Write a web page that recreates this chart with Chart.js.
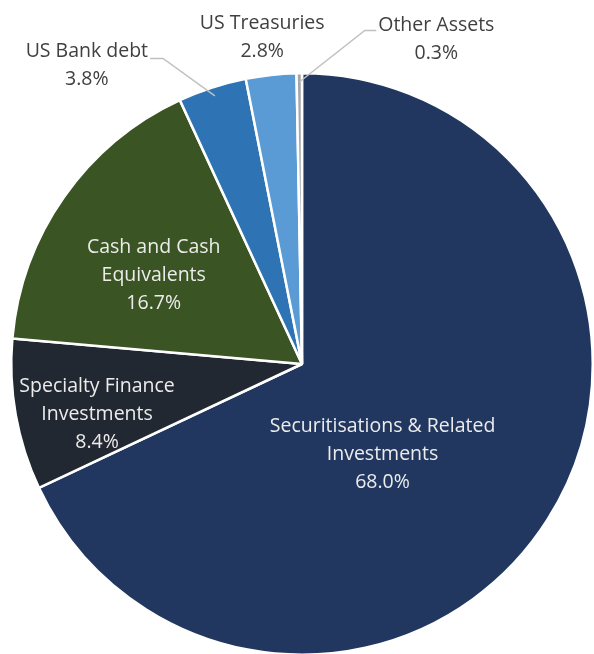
<!DOCTYPE html>
<html>
<head>
<meta charset="utf-8">
<script src="https://cdn.jsdelivr.net/npm/chart.js@4"></script>
<style>
  html, body { margin: 0; padding: 0; background: #fff; overflow: hidden; }
  #wrap { width: 594px; height: 660px; position: relative; }
</style>
</head>
<body>
<div id="wrap"><canvas id="assetChart"></canvas></div>
<script>
// asset allocation, clockwise from 12 o'clock
var categories = ['Securitisations & Related Investments', 'Specialty Finance Investments',
  'Cash and Cash Equivalents', 'US Bank debt', 'US Treasuries', 'Other Assets'];
var shares = [68.0, 8.4, 16.7, 3.8, 2.8, 0.3];
var labelLines = [
  ['Securitisations & Related', 'Investments'],
  ['Specialty Finance', 'Investments'],
  ['Cash and Cash', 'Equivalents'],
  ['US Bank debt'],
  ['US Treasuries'],
  ['Other Assets']
];
var sliceColours = ['#21375f', '#222831', '#3a5424', '#2e74b5', '#5b9bd5', '#a6a6a6'];

// label placement, as fractions of the pie radius from its centre
var labelSpots = [
  { x: 0.277, y: 0.312, inside: true },
  { x: -0.705, y: 0.175, inside: true },
  { x: -0.510, y: -0.305, inside: true },
  { x: -0.740, y: -1.027, leader: { x: -0.478, y: -1.051, side: -1 } },
  { x: -0.137, y: -1.123 },
  { x: 0.462, y: -1.116, leader: { x: 0.216, y: -1.147, side: 1 } }
];

var pieLabels = {
  id: 'pieLabels',
  afterDatasetsDraw: function(chart) {
    var ctx = chart.ctx;
    var arcs = chart.getDatasetMeta(0).data;
    ctx.save();
    ctx.font = '19.5px "Open Sans"';
    ctx.textAlign = 'center';
    ctx.textBaseline = 'middle';
    arcs.forEach(function(arc, i) {
      var r = arc.outerRadius, cx = arc.x, cy = arc.y;
      var spot = labelSpots[i];
      var lx = cx + spot.x * r, ly = cy + spot.y * r;
      var lines = labelLines[i].concat([shares[i].toFixed(1) + '%']);
      var lh = 28;
      var top = ly - (lines.length - 1) * lh / 2;
      if (spot.leader) {
        var mid = (arc.startAngle + arc.endAngle) / 2;
        var ex = cx + Math.cos(mid) * r * 0.97, ey = cy + Math.sin(mid) * r * 0.97;
        var bx = cx + spot.leader.x * r, by = cy + spot.leader.y * r;
        var w = ctx.measureText(lines[0]).width;
        var tx = lx - spot.leader.side * (w / 2 + 2);
        ctx.strokeStyle = '#c0c0c0';
        ctx.lineWidth = 1.5;
        ctx.beginPath();
        ctx.moveTo(ex, ey);
        ctx.lineTo(bx, by);
        ctx.lineTo(tx, by);
        ctx.stroke();
      }
      ctx.fillStyle = spot.inside ? '#ececec' : '#404040';
      lines.forEach(function(t, j) {
        ctx.fillText(t, lx, top + j * lh);
      });
    });
    ctx.restore();
  }
};

const assetChart = document.getElementById('assetChart');
const myChart = new Chart(assetChart, {
  type: 'pie',
  data: {
    labels: categories,
    datasets: [{
      data: shares,
      backgroundColor: sliceColours,
      borderColor: '#ffffff',
      borderWidth: 2.5
    }]
  },
  options: {
    responsive: true,
    maintainAspectRatio: false,
    animation: false,
    layout: { padding: { top: 72, left: 10, right: 0, bottom: 4 } },
    plugins: {
      legend: { display: false },
      tooltip: { enabled: false }
    }
  },
  plugins: [pieLabels]
});
</script>
</body>
</html>
